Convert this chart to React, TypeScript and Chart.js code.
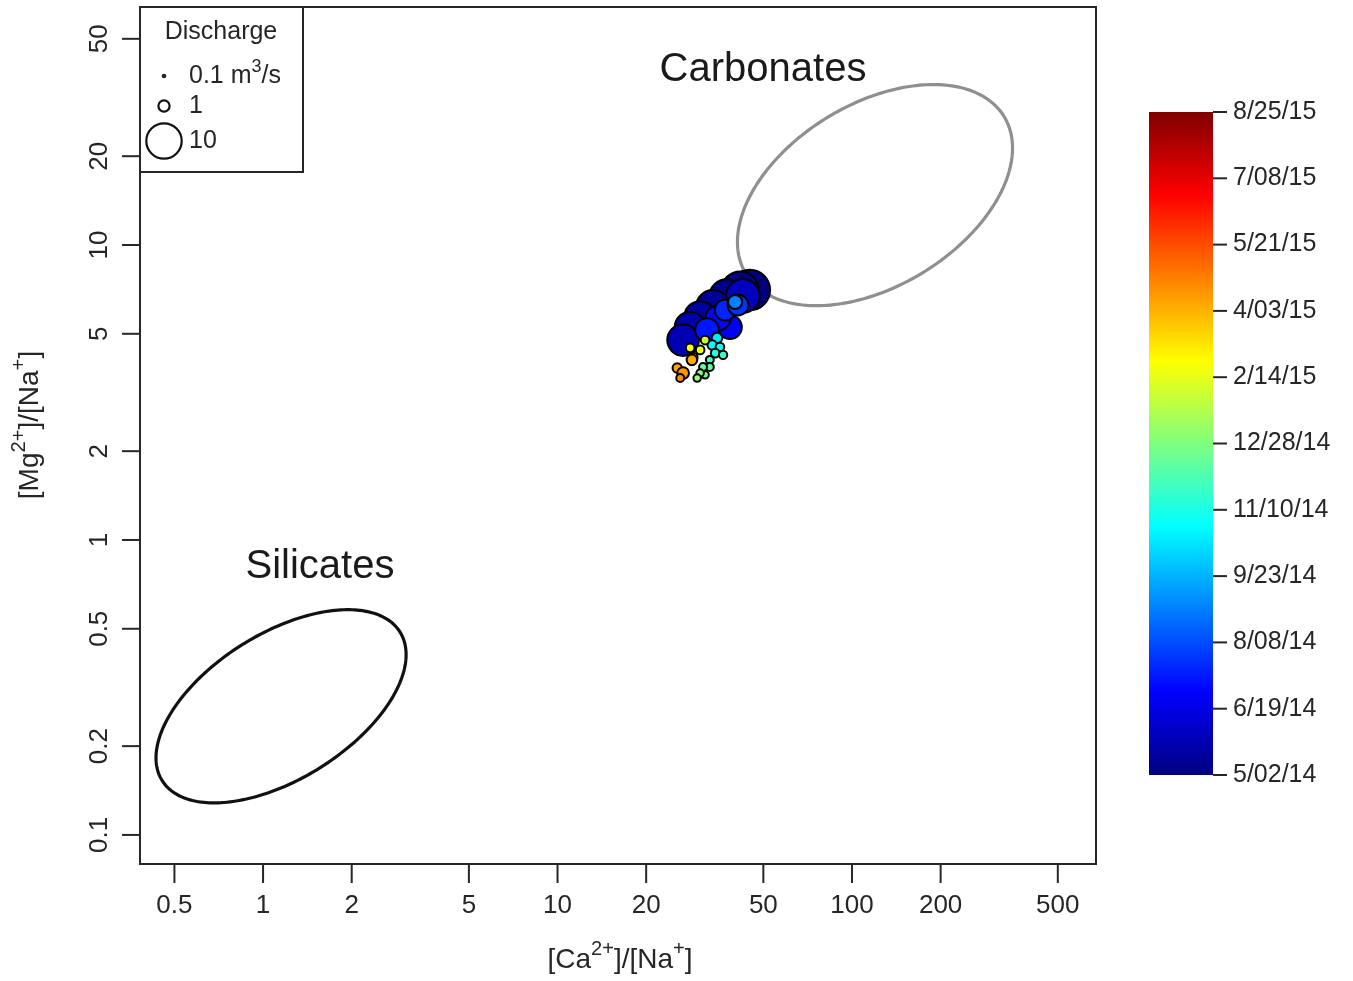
import React, { useEffect, useRef } from "react";
import { Chart, registerables } from "chart.js";

Chart.register(...registerables);

// ---------- data ----------
const sampleDates = [
  "2014-05-02", "2014-05-06", "2014-05-10", "2014-05-14", "2014-05-18", "2014-05-22",
  "2014-05-26", "2014-06-01", "2014-06-27", "2014-07-04", "2014-07-11", "2014-07-18",
  "2014-07-25", "2014-08-30", "2014-10-20", "2014-10-28", "2014-11-05", "2014-11-13",
  "2014-11-21", "2014-11-29", "2014-12-07", "2014-12-15", "2014-12-23", "2015-01-01",
  "2015-01-09", "2015-02-05", "2015-02-15", "2015-02-25", "2015-03-10", "2015-04-08",
  "2015-04-12", "2015-04-16", "2015-04-20",
];
const caNa = [
  45.0, 41.7, 37.6, 33.7, 30.5, 28.2,
  26.7, 42.6, 38.5, 35.1, 32.2, 37.1,
  41.0, 40.1, 34.8, 33.5, 35.6, 34.3,
  36.5, 32.9, 32.9, 31.2, 31.7, 30.5,
  29.8, 31.7, 30.5, 28.2, 28.9, 28.6,
  25.5, 26.7, 26.1,
];
const mgNa = [
  7.04, 7.04, 6.66, 6.17, 5.70, 5.27,
  4.76, 6.72, 5.27, 5.66, 5.15, 6.02,
  6.26, 6.41, 4.84, 4.58, 4.51, 4.30,
  4.24, 4.08, 3.86, 3.86, 3.63, 3.68,
  3.54, 4.76, 4.41, 4.48, 4.17, 4.08,
  3.83, 3.68, 3.54,
];
const discharge = [
  13, 11, 10, 9, 8, 7.5,
  8, 9, 4.5, 5, 4.5, 3.5,
  3.5, 1.6, 0.9, 0.7, 0.6, 0.6,
  0.55, 0.5, 0.5, 0.5, 0.45, 0.45,
  0.45, 0.6, 0.6, 0.6, 0.6, 0.9,
  0.7, 1.1, 0.5,
];

const xTicks = [0.5, 1, 2, 5, 10, 20, 50, 100, 200, 500];
const yTicks = [0.1, 0.2, 0.5, 1, 2, 5, 10, 20, 50];
const colorbarLabels = [
  "5/02/14", "6/19/14", "8/08/14", "9/23/14", "11/10/14", "12/28/14",
  "2/14/15", "4/03/15", "5/21/15", "7/08/15", "8/25/15",
];
const dateStart = "2014-05-02";
const dateEnd = "2015-08-25";
const legendDischarge = [0.1, 1, 10];
const legendLabels = ["0.1 m", "1", "10"];

// end-member fields: centre (ratio values), semi-axes in log10 units, tilt in degrees
const carbonates = { cx: 119.7, cy: 14.76, a: 0.513, b: 0.309, angle: 31.2 };
const silicates = { cx: 1.151, cy: 0.273, a: 0.476, b: 0.247, angle: 31.9 };

// ---------- helpers ----------
const FONT = "'Liberation Sans', Arial, Helvetica, sans-serif";
const JET = ["#00007F", "#0000FF", "#007FFF", "#00FFFF", "#7FFF7F", "#FFFF00", "#FF7F00", "#FF0000", "#7F0000"];

function hexToRgb(h: string) {
  return [parseInt(h.slice(1, 3), 16), parseInt(h.slice(3, 5), 16), parseInt(h.slice(5, 7), 16)];
}
function jet(t: number) {
  const tt = Math.max(0, Math.min(1, t)) * (JET.length - 1);
  const i = Math.min(JET.length - 2, Math.floor(tt));
  const f = tt - i;
  const a = hexToRgb(JET[i]);
  const b = hexToRgb(JET[i + 1]);
  const c = a.map((v, k) => Math.round(v + (b[k] - v) * f));
  return `rgb(${c[0]},${c[1]},${c[2]})`;
}
const t0 = new Date(dateStart).getTime();
const t1 = new Date(dateEnd).getTime();
const dateFrac = (d: string) => (new Date(d).getTime() - t0) / (t1 - t0);
const radiusFor = (q: number) => 5.6 * Math.sqrt(q);

type Part = { t: string; sup?: boolean };
function richWidth(ctx: CanvasRenderingContext2D, parts: Part[], size: number) {
  let w = 0;
  for (const p of parts) {
    ctx.font = `${p.sup ? size * 0.72 : size}px ${FONT}`;
    w += ctx.measureText(p.t).width;
  }
  return w;
}
function drawRich(ctx: CanvasRenderingContext2D, parts: Part[], x: number, y: number, size: number, align: "left" | "center") {
  const w = richWidth(ctx, parts, size);
  let cx = align === "center" ? x - w / 2 : x;
  ctx.textAlign = "left";
  ctx.textBaseline = "middle";
  for (const p of parts) {
    const s = p.sup ? size * 0.72 : size;
    ctx.font = `${s}px ${FONT}`;
    ctx.fillText(p.t, cx, p.sup ? y - size * 0.36 : y);
    cx += ctx.measureText(p.t).width;
  }
}

const decoPlugin = {
  id: "deco",
  beforeDatasetsDraw(chart: any) {
    const ctx: CanvasRenderingContext2D = chart.ctx;
    const xs = chart.scales.x;
    const ys = chart.scales.y;
    const drawEllipse = (e: any, color: string) => {
      const th = (e.angle * Math.PI) / 180;
      const lx0 = Math.log10(e.cx);
      const ly0 = Math.log10(e.cy);
      ctx.save();
      ctx.beginPath();
      for (let k = 0; k <= 240; k++) {
        const t = (2 * Math.PI * k) / 240;
        const u = e.a * Math.cos(t);
        const v = e.b * Math.sin(t);
        const lx = lx0 + u * Math.cos(th) - v * Math.sin(th);
        const ly = ly0 + u * Math.sin(th) + v * Math.cos(th);
        const px = xs.getPixelForValue(Math.pow(10, lx));
        const py = ys.getPixelForValue(Math.pow(10, ly));
        if (k === 0) ctx.moveTo(px, py);
        else ctx.lineTo(px, py);
      }
      ctx.closePath();
      ctx.strokeStyle = color;
      ctx.lineWidth = 3.2;
      ctx.stroke();
      ctx.restore();
    };
    drawEllipse(carbonates, "#8f8f8f");
    drawEllipse(silicates, "#111111");

    ctx.save();
    ctx.fillStyle = "#1a1a1a";
    ctx.font = `40px ${FONT}`;
    ctx.textAlign = "center";
    ctx.textBaseline = "middle";
    ctx.fillText("Carbonates", 763, 70);
    ctx.fillText("Silicates", 320, 567);
    ctx.restore();
  },
  afterDraw(chart: any) {
    const ctx: CanvasRenderingContext2D = chart.ctx;
    const xs = chart.scales.x;
    const ys = chart.scales.y;
    const area = chart.chartArea;
    const ink = "#262626";
    ctx.save();
    // plot frame
    ctx.strokeStyle = ink;
    ctx.lineWidth = 2;
    ctx.strokeRect(area.left, area.top, area.right - area.left, area.bottom - area.top);

    // x ticks
    ctx.fillStyle = ink;
    ctx.font = `26px ${FONT}`;
    ctx.textAlign = "center";
    ctx.textBaseline = "middle";
    for (const v of xTicks) {
      const px = xs.getPixelForValue(v);
      ctx.beginPath();
      ctx.moveTo(px, area.bottom);
      ctx.lineTo(px, area.bottom + 19);
      ctx.stroke();
      ctx.fillText(String(v), px, area.bottom + 42);
    }
    // y ticks
    for (const v of yTicks) {
      const py = ys.getPixelForValue(v);
      ctx.beginPath();
      ctx.moveTo(area.left, py);
      ctx.lineTo(area.left - 18, py);
      ctx.stroke();
      ctx.save();
      ctx.translate(area.left - 40, py);
      ctx.rotate(-Math.PI / 2);
      ctx.font = `26px ${FONT}`;
      ctx.textAlign = "center";
      ctx.textBaseline = "middle";
      ctx.fillText(String(v), 0, 0);
      ctx.restore();
    }
    // axis titles
    drawRich(ctx, [{ t: "[Ca" }, { t: "2+", sup: true }, { t: "]/[Na" }, { t: "+", sup: true }, { t: "]" }],
      (area.left + area.right) / 2 + 2, 960, 28, "center");
    ctx.save();
    ctx.translate(30, 425);
    ctx.rotate(-Math.PI / 2);
    drawRich(ctx, [{ t: "[Mg" }, { t: "2+", sup: true }, { t: "]/[Na" }, { t: "+", sup: true }, { t: "]" }],
      0, 0, 28, "center");
    ctx.restore();

    // legend box
    ctx.fillStyle = "#ffffff";
    ctx.fillRect(area.left, area.top, 163, 165);
    ctx.strokeStyle = ink;
    ctx.lineWidth = 2;
    ctx.strokeRect(area.left, area.top, 163, 165);
    ctx.fillStyle = ink;
    ctx.font = `25px ${FONT}`;
    ctx.textAlign = "center";
    ctx.textBaseline = "middle";
    ctx.fillText("Discharge", area.left + 81, area.top + 25);
    const rowsY = [76, 106, 141];
    legendDischarge.forEach((q, i) => {
      const r = radiusFor(q);
      ctx.beginPath();
      ctx.arc(164, rowsY[i], i === 0 ? r + 0.6 : r, 0, Math.PI * 2);
      if (i === 0) {
        ctx.fillStyle = ink;
        ctx.fill();
      } else {
        ctx.strokeStyle = "#111";
        ctx.lineWidth = 2.2;
        ctx.stroke();
      }
      ctx.fillStyle = ink;
      if (i === 0) {
        drawRich(ctx, [{ t: legendLabels[i] }, { t: "3", sup: true }, { t: "/s" }], 189, rowsY[i], 25, "left");
      } else {
        ctx.font = `25px ${FONT}`;
        ctx.textAlign = "left";
        ctx.textBaseline = "middle";
        ctx.fillText(legendLabels[i], 189, rowsY[i]);
      }
    });

    // colour bar
    const cbL = 1149, cbR = 1213, cbT = 112, cbB = 775;
    const grad = ctx.createLinearGradient(0, cbB, 0, cbT);
    JET.forEach((c, i) => grad.addColorStop(i / (JET.length - 1), c));
    ctx.fillStyle = grad;
    ctx.fillRect(cbL, cbT, cbR - cbL, cbB - cbT);
    ctx.strokeStyle = ink;
    ctx.lineWidth = 2;
    ctx.font = `25px ${FONT}`;
    ctx.textAlign = "left";
    ctx.textBaseline = "middle";
    ctx.fillStyle = ink;
    colorbarLabels.forEach((lab, i) => {
      const py = cbB - ((cbB - cbT) * i) / (colorbarLabels.length - 1);
      ctx.beginPath();
      ctx.moveTo(cbR, py);
      ctx.lineTo(cbR + 14, py);
      ctx.stroke();
      ctx.fillText(lab, cbR + 20, py);
    });
    ctx.restore();
  },
};

export default function App() {
  const ref = useRef<HTMLCanvasElement | null>(null);
  useEffect(() => {
    if (!ref.current) return;
    const points = caNa.map((x, i) => ({ x, y: mgNa[i] }));
    const chart = new Chart(ref.current, {
      type: "scatter",
      data: {
        datasets: [
          {
            data: points,
            pointRadius: (c: any) => radiusFor(discharge[c.dataIndex] ?? 1),
            pointHoverRadius: (c: any) => radiusFor(discharge[c.dataIndex] ?? 1),
            pointBackgroundColor: (c: any) => jet(dateFrac(sampleDates[c.dataIndex] ?? dateStart)),
            pointBorderColor: "#000000",
            pointBorderWidth: 2,
          },
        ],
      },
      options: {
        animation: false,
        responsive: false,
        layout: { autoPadding: false, padding: { left: 140, top: 7, right: 1353 - 1096, bottom: 981 - 864 } },
        plugins: { legend: { display: false }, tooltip: { enabled: false } },
        scales: {
          x: { type: "logarithmic", min: 0.382, max: 674, display: false },
          y: { type: "logarithmic", min: 0.0797, max: 64.1, display: false },
        },
      },
      plugins: [decoPlugin],
    } as any);
    return () => chart.destroy();
  }, []);
  return (
    <div style={{ position: "absolute", left: 0, top: 0, width: 1353, height: 981, background: "#fff" }}>
      <canvas ref={ref} width={1353} height={981} style={{ display: "block" }} />
    </div>
  );
}
